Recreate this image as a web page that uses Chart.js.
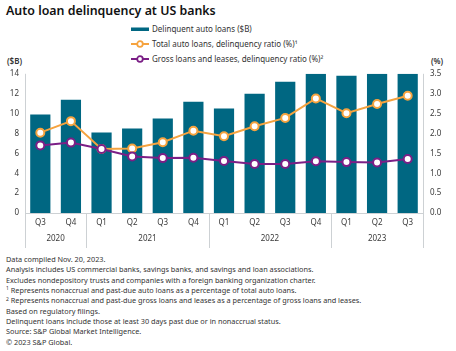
<!DOCTYPE html>
<html>
<head>
<meta charset="utf-8">
<script src="https://cdn.jsdelivr.net/npm/chart.js@4.4.0/dist/chart.umd.min.js"></script>
<style>
  html, body { margin: 0; padding: 0; background: #fff; }
  body { width: 456px; height: 351px; position: relative; overflow: hidden; font-family: "Noto Sans", sans-serif; color: #222; }
  #title { position: absolute; left: 6px; top: 2px; font-size: 12.4px; line-height: 17px; font-weight: 600; color: #111; }
  #legend { position: absolute; left: 131px; top: 21px; font-size: 8px; color: #333; }
  .lg { height: 15px; display: flex; align-items: center; }
  .lg svg { margin-right: 3px; }
  .unit { position: absolute; top: 55px; font-size: 8px; font-weight: 600; color: #333; }
  #chartWrap { position: absolute; left: 0; top: 62px; width: 456px; height: 190px; }
  #notes { position: absolute; left: 6px; top: 254px; font-size: 7.3px; line-height: 10.33px; color: #333; white-space: nowrap; }
  #notes .s { font-size: 5px; position: relative; top: -2.5px; line-height: 0; }
</style>
</head>
<body>
<div id="title">Auto loan delinquency at US banks</div>
<div id="legend"></div>
<div class="unit" style="left:7px">($B)</div>
<div class="unit" style="left:431px">(%)</div>
<div id="chartWrap"><canvas id="myChart"></canvas></div>
<div id="notes">
Data compiled Nov. 20, 2023.<br>
Analysis includes US commercial banks, savings banks, and savings and loan associations.<br>
Excludes nondepository trusts and companies with a foreign banking organization charter.<br>
<span class="s">1</span> Represents nonaccrual and past-due auto loans as a percentage of total auto loans.<br>
<span class="s">2</span> Represents nonaccrual and past-due gross loans and leases as a percentage of gross loans and leases.<br>
Based on regulatory filings.<br>
Delinquent loans include those at least 30 days past due or in nonaccrual status.<br>
Source: S&amp;P Global Market Intelligence.<br>
© 2023 S&amp;P Global.
</div>
<script>
// datos
const quarters = ['Q3', 'Q4', 'Q1', 'Q2', 'Q3', 'Q4', 'Q1', 'Q2', 'Q3', 'Q4', 'Q1', 'Q2', 'Q3'];
const years = ['2020', '2021', '2022', '2023'];
const yearSpans = [2, 4, 4, 3];
const delinquentLoans = [9.9, 11.4, 8.1, 8.5, 9.5, 11.2, 10.5, 12.0, 13.2, 14.0, 13.8, 14.0, 14.0];
const autoRatio = [2.02, 2.31, 1.61, 1.62, 1.78, 2.07, 1.93, 2.18, 2.39, 2.88, 2.51, 2.74, 2.95];
const grossRatio = [1.70, 1.77, 1.61, 1.42, 1.38, 1.39, 1.31, 1.23, 1.23, 1.30, 1.28, 1.27, 1.36];
const leftTicks = [0, 2, 4, 6, 8, 10, 12, 14];
const rightTicks = [0, 0.5, 1, 1.5, 2, 2.5, 3, 3.5];

const TEAL = '#006782';
const ORANGE = '#f5a33f';
const PURPLE = '#7b1f86';
const AXIS_GREY = '#cdd1d4';
const TXT = '#3a3a3a';
const FONT = '"Noto Sans", sans-serif';

// Leyenda en HTML (lista vertical)
const legendItems = [
    { text: 'Delinquent auto loans ($B)', kind: 'bar', color: TEAL },
    { text: 'Total auto loans, delinquency ratio (%)\u00b9', kind: 'line', color: ORANGE },
    { text: 'Gross loans and leases, delinquency ratio (%)\u00b2', kind: 'line', color: PURPLE }
];
const legendEl = document.getElementById('legend');
legendItems.forEach(item => {
    const row = document.createElement('div');
    row.className = 'lg';
    const sym = item.kind === 'bar'
        ? `<svg width="18" height="8"><rect x="0" y="2.5" width="18" height="3.5" fill="${item.color}"/></svg>`
        : `<svg width="18" height="8"><line x1="0" y1="4" x2="18" y2="4" stroke="${item.color}" stroke-width="2"/><circle cx="9" cy="4" r="2.8" fill="#fff" stroke="${item.color}" stroke-width="1.8"/></svg>`;
    row.innerHTML = sym + '<span>' + item.text + '</span>';
    legendEl.appendChild(row);
});

// Separadores de años y etiquetas de año
const yearPlugin = {
    id: 'yearGroups',
    afterDraw(chart) {
        const ctx = chart.ctx;
        const xs = chart.scales.x;
        const area = chart.chartArea;
        const step = (area.right - area.left) / quarters.length;
        const bottom = area.bottom + 35;
        ctx.save();
        ctx.strokeStyle = AXIS_GREY;
        ctx.lineWidth = 1;
        // eje base
        ctx.beginPath();
        ctx.moveTo(area.left, area.bottom + 0.5);
        ctx.lineTo(area.right, area.bottom + 0.5);
        // eje izquierdo y derecho
        ctx.moveTo(Math.round(area.left) + 0.5, area.top);
        ctx.lineTo(Math.round(area.left) + 0.5, bottom);
        ctx.moveTo(Math.round(area.right) + 0.5, area.top);
        ctx.lineTo(Math.round(area.right) + 0.5, bottom);
        let idx = 0;
        ctx.font = '8px ' + FONT;
        ctx.fillStyle = TXT;
        ctx.textAlign = 'center';
        ctx.textBaseline = 'middle';
        years.forEach((yr, i) => {
            const start = idx;
            idx += yearSpans[i];
            const xEnd = Math.round(area.left + idx * step) + 0.5;
            if (i < years.length - 1) {
                ctx.moveTo(xEnd, area.bottom);
                ctx.lineTo(xEnd, bottom);
            }
            const mid = (xs.getPixelForValue(start) + xs.getPixelForValue(idx - 1)) / 2;
            ctx.fillText(yr, mid, area.bottom + 26);
        });
        ctx.stroke();
        ctx.restore();
    }
};

const ctx = document.getElementById('myChart').getContext('2d');
new Chart(ctx, {
    data: {
        labels: quarters,
        datasets: [
            {
                type: 'line',
                label: 'Total auto loans, delinquency ratio (%)',
                data: autoRatio,
                yAxisID: 'y1',
                borderColor: ORANGE,
                backgroundColor: '#fff',
                borderWidth: 2,
                pointRadius: 4,
                pointBorderWidth: 2,
                pointBackgroundColor: '#fff',
                pointBorderColor: ORANGE,
                tension: 0,
                order: 1
            },
            {
                type: 'line',
                label: 'Gross loans and leases, delinquency ratio (%)',
                data: grossRatio,
                yAxisID: 'y1',
                borderColor: PURPLE,
                backgroundColor: '#fff',
                borderWidth: 2,
                pointRadius: 4,
                pointBorderWidth: 2,
                pointBackgroundColor: '#fff',
                pointBorderColor: PURPLE,
                tension: 0,
                order: 0
            },
            {
                type: 'bar',
                label: 'Delinquent auto loans ($B)',
                data: delinquentLoans,
                yAxisID: 'y',
                backgroundColor: TEAL,
                barPercentage: 0.66,
                categoryPercentage: 1,
                order: 2
            }
        ]
    },
    options: {
        responsive: true,
        maintainAspectRatio: false,
        animation: false,
        layout: { padding: { top: 10, bottom: 2, left: 0, right: 0 } },
        plugins: {
            legend: { display: false },
            tooltip: { enabled: false }
        },
        scales: {
            x: {
                grid: { display: false, drawTicks: false },
                border: { display: false },
                ticks: { color: TXT, font: { family: FONT, size: 8 }, padding: 5, maxRotation: 0, autoSkip: false },
                afterFit: (scale) => { scale.height = 37; }
            },
            y: {
                position: 'left',
                min: 0,
                max: 14,
                grid: { display: false, drawTicks: false },
                border: { display: false },
                afterBuildTicks: (scale) => { scale.ticks = leftTicks.map(v => ({ value: v })); },
                ticks: { color: TXT, font: { family: FONT, size: 8 }, padding: 6 },
                afterFit: (scale) => { scale.width = 25; }
            },
            y1: {
                position: 'right',
                min: 0,
                max: 3.5,
                grid: { display: false, drawTicks: false },
                border: { display: false },
                afterBuildTicks: (scale) => { scale.ticks = rightTicks.map(v => ({ value: v })); },
                ticks: {
                    color: TXT,
                    font: { family: FONT, size: 8 },
                    padding: 7,
                    callback: (v) => Number(v).toFixed(1)
                },
                afterFit: (scale) => { scale.width = 33; }
            }
        }
    },
    plugins: [yearPlugin]
});
</script>
</body>
</html>
